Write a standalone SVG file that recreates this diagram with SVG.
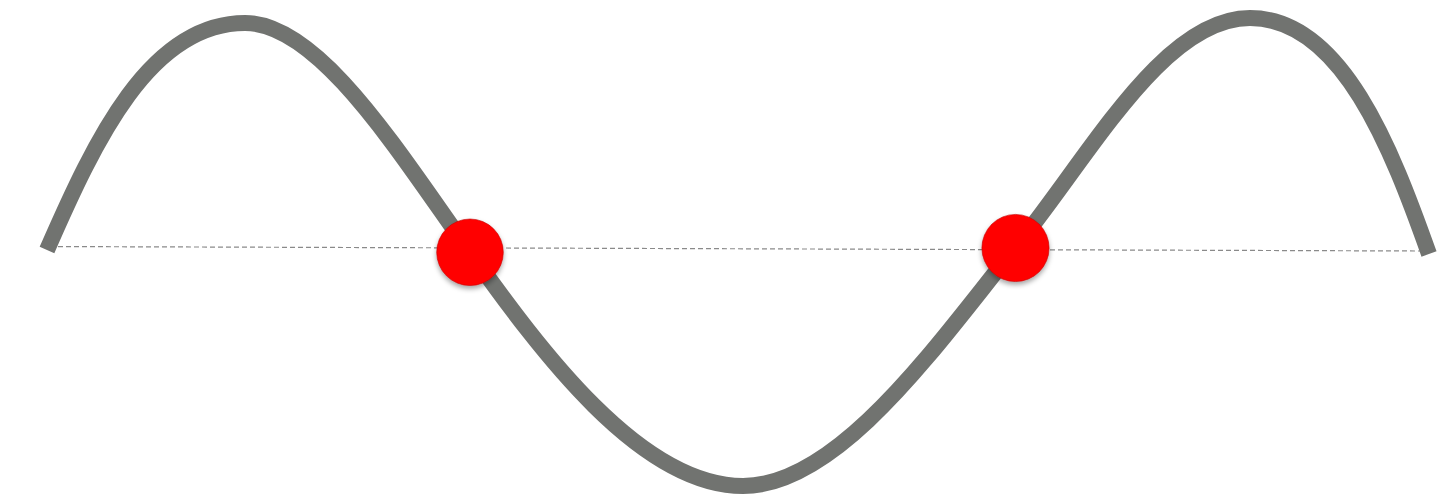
<svg xmlns="http://www.w3.org/2000/svg" width="1446" height="497" viewBox="0 0 1446 497">
<style>
.wave{fill:none;stroke:#717370;stroke-width:16;stroke-linecap:butt}
.axis{stroke:#8a8a8a;stroke-width:1.2;stroke-dasharray:5 3;fill:none}
.dot{fill:#ff0000;stroke:#c40000;stroke-width:0.6;filter:url(#sh)}
</style>
<defs>
<filter id="sh" x="-30%" y="-30%" width="160%" height="170%">
<feDropShadow dx="0" dy="3" stdDeviation="2.5" flood-color="#000" flood-opacity="0.35"/>
</filter>
</defs>
<rect width="1446" height="497" fill="#fff"/>
<g id="connectors">
<line class="axis" x1="42" y1="246.5" x2="1420" y2="251"/>
<path class="wave" d="M47,250 C95,140 150,23 245,23 C320,23 400,155 470,252 C540,350 640,486 743,486 C840,486 940,340 1015,248 C1090,156 1163,18 1250,18 C1342,18 1392,150 1429,254"/>
</g>
<g id="node1"><circle class="dot" cx="470" cy="252.3" r="33.3"/></g>
<g id="node2"><circle class="dot" cx="1015.5" cy="248" r="33.6"/></g>
</svg>
